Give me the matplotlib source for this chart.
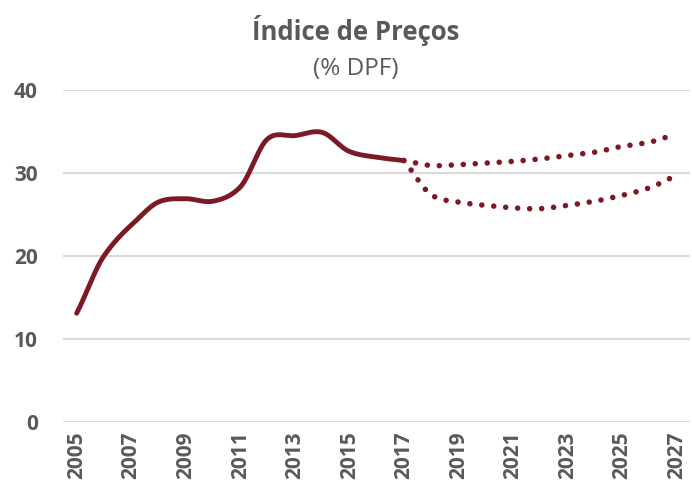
import numpy as np
import matplotlib
matplotlib.use("Agg")
import matplotlib.pyplot as plt

years_hist = [2005, 2006, 2007, 2008, 2009, 2010, 2011, 2012, 2013, 2014, 2015, 2016, 2017]
vals_hist = [13.1, 20.0, 23.7, 26.5, 26.9, 26.6, 28.3, 34.1, 34.5, 34.9, 32.6, 31.9, 31.5]

years_proj = [2017, 2018, 2019, 2020, 2021, 2022, 2023, 2024, 2025, 2026, 2027]
vals_upper = [31.5, 30.9, 31.0, 31.2, 31.4, 31.7, 32.1, 32.5, 33.2, 33.7, 34.7]
vals_lower = [31.5, 27.4, 26.5, 26.1, 25.8, 25.7, 26.1, 26.6, 27.3, 28.2, 29.7]

xticks = list(range(2005, 2028, 2))
yticks = [0, 10, 20, 30, 40]

COLOR = "#7B1A24"
GRID = "#D9D9D9"
TXT = "#595959"


def smooth(x, y, n=30):
    # Catmull-Rom style smoothing (like Excel smoothed lines)
    x = np.asarray(x, float)
    y = np.asarray(y, float)
    px = np.concatenate([[2 * x[0] - x[1]], x, [2 * x[-1] - x[-2]]])
    py = np.concatenate([[2 * y[0] - y[1]], y, [2 * y[-1] - y[-2]]])
    xs, ys = [], []
    t = np.linspace(0, 1, n, endpoint=False)
    for i in range(1, len(px) - 2):
        p0, p1, p2, p3 = py[i - 1], py[i], py[i + 1], py[i + 2]
        q0, q1, q2, q3 = px[i - 1], px[i], px[i + 1], px[i + 2]
        m1 = (p2 - p0) / 2 * 0.9
        m2 = (p3 - p1) / 2 * 0.9
        n1 = (q2 - q0) / 2
        n2 = (q3 - q1) / 2
        h00 = 2 * t**3 - 3 * t**2 + 1
        h10 = t**3 - 2 * t**2 + t
        h01 = -2 * t**3 + 3 * t**2
        h11 = t**3 - t**2
        ys.append(h00 * p1 + h10 * m1 + h01 * p2 + h11 * m2)
        xs.append(h00 * q1 + h10 * n1 + h01 * q2 + h11 * n2)
    xs.append([x[-1]])
    ys.append([y[-1]])
    return np.concatenate(xs), np.concatenate(ys)


plt.rcParams['font.family'] = ['Open Sans', 'DejaVu Sans']

fig = plt.figure(figsize=(6.92, 4.92), dpi=100)
ax = fig.add_axes([63 / 692, 70 / 492, 627 / 692, 332 / 492])

for yv in yticks:
    ax.axhline(yv, color=GRID, lw=1.5, zorder=0)

hx, hy = smooth(years_hist, vals_hist)
ax.plot(hx, hy, color=COLOR, lw=3.5, solid_capstyle='round', zorder=3)

ux, uy = smooth(years_proj, vals_upper)
ax.plot(ux, uy, color=COLOR, lw=4.0, linestyle=(0, (0.01, 2.15)),
        dash_capstyle='round', zorder=2)
lx, ly = smooth(years_proj, vals_lower)
ax.plot(lx, ly, color=COLOR, lw=4.0, linestyle=(0, (0.01, 2.15)),
        dash_capstyle='round', zorder=2)

ax.set_xlim(2004.5, 2027.5)
ax.set_ylim(0, 40)
ax.set_xticks(xticks)
ax.set_xticklabels([str(v) for v in xticks], rotation=90, fontsize=15,
                   fontweight='bold', color=TXT)
ax.set_yticks(yticks)
ax.set_yticklabels([str(v) for v in yticks], fontsize=15, fontweight='bold',
                   color=TXT)
ax.tick_params(axis='both', length=0)
ax.tick_params(axis='x', pad=7)
ax.tick_params(axis='y', pad=18)
for s in ax.spines.values():
    s.set_visible(False)

fig.text(356 / 692, 1 - 30 / 492, "Índice de Preços", ha='center', va='center',
         fontsize=18.5, fontweight='bold', color=TXT)
fig.text(356 / 692, 1 - 69 / 492, "(% DPF)", ha='center', va='center',
         fontsize=17.5, color=TXT)

fig.savefig("out.png", dpi=100, facecolor='white')
